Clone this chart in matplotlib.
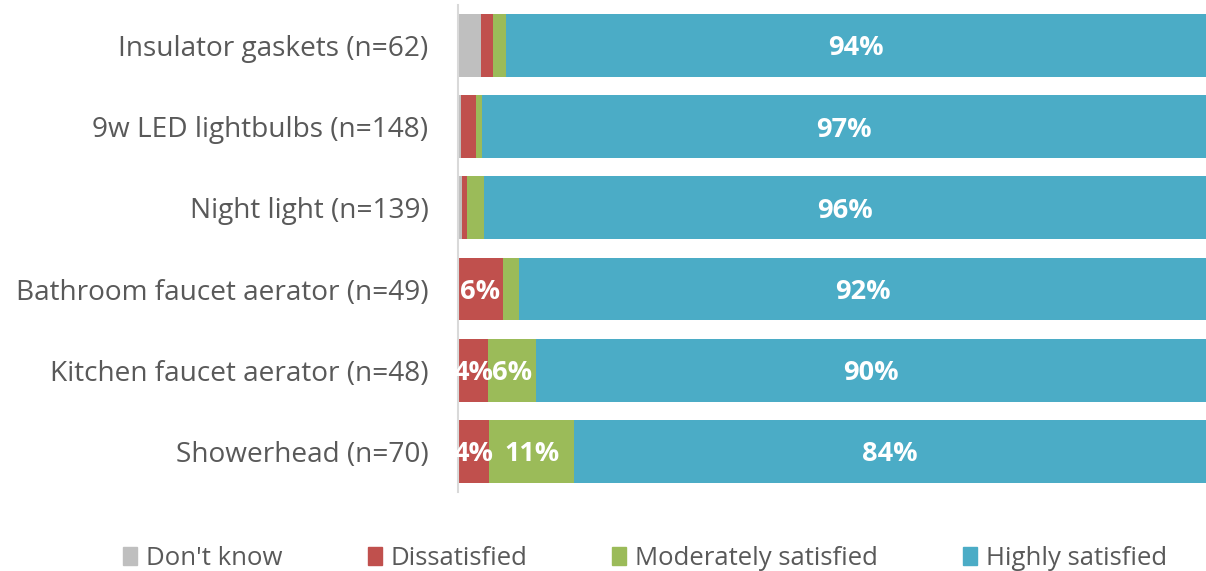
import numpy as np
import matplotlib
matplotlib.use("Agg")
import matplotlib.pyplot as plt
from matplotlib.patches import Patch

# survey items, top to bottom
items = ["Insulator gaskets (n=62)", "9w LED lightbulbs (n=148)", "Night light (n=139)",
         "Bathroom faucet aerator (n=49)", "Kitchen faucet aerator (n=48)", "Showerhead (n=70)"]

# percent of respondents per answer
dont_know = [3.1, 0.5, 0.6, 0.0, 0.0, 0.0]
dissatisfied = [1.6, 2.0, 0.7, 6.1, 4.1, 4.2]
moderately = [1.7, 0.8, 2.2, 2.1, 6.3, 11.4]
highly = [93.6, 96.7, 96.5, 91.8, 89.6, 84.4]

series_names = ["Don't know", "Dissatisfied", "Moderately satisfied", "Highly satisfied"]
colors = ["#BFBFBF", "#C0504D", "#9BBB59", "#4BACC6"]

plt.rcParams['font.family'] = ['Open Sans', 'DejaVu Sans']

fig = plt.figure(figsize=(12.06, 5.71), dpi=100)
ax = fig.add_axes([0.3795, 0.1384, 0.6205, 0.853])

index = np.arange(len(items))
left = np.zeros(len(items))
for name, vals, col in zip(series_names, [dont_know, dissatisfied, moderately, highly], colors):
    vals = np.array(vals)
    ax.barh(index, vals, height=0.775, left=left, color=col, label=name)
    for i, v in enumerate(vals):
        if round(v) >= 4:
            # small downward nudge so the label sits like the original
            ax.text(left[i] + v / 2, i + 0.035, "%d%%" % round(v), ha="center", va="center",
                    color="white", fontsize=19.5, fontweight="bold")
    left += vals

ax.set_xlim(0, 100)
ax.set_ylim(5.5, -0.5)
ax.set_yticks(index)
ax.set_yticklabels(items, fontsize=20.2, color="#595959")
ax.tick_params(axis="y", length=0, pad=21)
ax.set_xticks([])
for s in ["top", "right", "bottom"]:
    ax.spines[s].set_visible(False)
ax.spines["left"].set_color("#D9D9D9")
ax.spines["left"].set_linewidth(1.5)

handles = [Patch(color=c, label=n) for n, c in zip(series_names, colors)]
fig.legend(handles=handles, loc="center", bbox_to_anchor=(0.535, 0.022), ncol=4,
           frameon=False, fontsize=18.5, labelcolor="#595959",
           handlelength=0.55, handleheight=0.7, handletextpad=0.35, columnspacing=3.3)

fig.savefig("out.png", dpi=100)
